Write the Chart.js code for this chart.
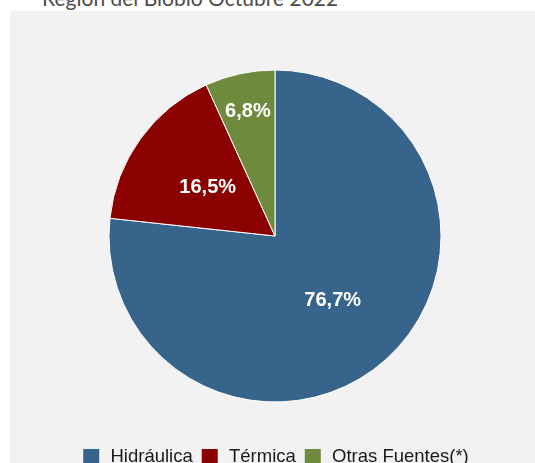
<!DOCTYPE html>
<html>
<head>
<meta charset="utf-8">
<script src="https://cdn.jsdelivr.net/npm/chart.js@4"></script>
<style>
  html, body { margin: 0; padding: 0; background: #ffffff; overflow: hidden; }
  body { width: 535px; height: 463px; position: relative; }
  #title {
    position: absolute; left: 42px; top: -13px;
    font-family: Lato, sans-serif; font-size: 21px; line-height: 21px;
    color: #4d4d4d; white-space: nowrap;
  }
  #panel {
    position: absolute; left: 10px; top: 11px; width: 525px; height: 452px;
    background: #f2f2f2; overflow: hidden;
  }
  #wrap { position: absolute; left: 0; top: 0; width: 525px; height: 466px; }
</style>
</head>
<body>
<div id="title">Región del Biobío Octubre 2022</div>
<div id="panel"><div id="wrap"><canvas id="pie-chart"></canvas></div></div>
<script>
// data
const categories = ['Hidráulica', 'Térmica', 'Otras Fuentes(*)'];
const shares = [76.7, 16.5, 6.8];
const sliceColors = ['#36648b', '#8b0000', '#6e8b3d'];

// how far out each label sits, as a share of the radius
const labelRadius = [0.52, 0.50, 0.77];

const sliceLabels = {
    id: 'sliceLabels',
    afterDatasetsDraw(chart) {
        const ctx = chart.ctx;
        const arcs = chart.getDatasetMeta(0).data;
        ctx.save();
        ctx.font = 'bold 20px "Liberation Sans", Arial, sans-serif';
        ctx.fillStyle = '#ffffff';
        ctx.textAlign = 'center';
        ctx.textBaseline = 'middle';
        arcs.forEach((arc, i) => {
            const p = arc.getProps(['x', 'y', 'startAngle', 'endAngle', 'outerRadius'], true);
            const mid = (p.startAngle + p.endAngle) / 2;
            const r = p.outerRadius * labelRadius[i];
            const txt = shares[i].toFixed(1).replace('.', ',') + '%';
            ctx.fillText(txt, p.x + Math.cos(mid) * r, p.y + Math.sin(mid) * r);
        });
        ctx.restore();
    }
};

new Chart(document.querySelector('#pie-chart').getContext('2d'), {
    type: 'pie',
    data: {
        labels: categories,
        datasets: [{
            data: shares,
            backgroundColor: sliceColors,
            borderColor: '#ffffff',
            borderWidth: 1,
            radius: 166
        }]
    },
    options: {
        responsive: true,
        maintainAspectRatio: false,
        animation: false,
        layout: { padding: { top: 21, left: 6, right: 1, bottom: 0 } },
        plugins: {
            title: { display: false },
            tooltip: { enabled: false },
            legend: {
                position: 'bottom',
                labels: {
                    boxWidth: 20,
                    boxHeight: 20,
                    padding: 7,
                    color: '#1a1a1a',
                    font: { family: '"Liberation Sans", Arial, sans-serif', size: 18.5 },
                    // a wide border in the panel colour leaves a 16px swatch with some air after it
                    generateLabels(chart) {
                        const items = Chart.overrides.pie.plugins.legend.labels.generateLabels(chart);
                        items.forEach(it => { it.strokeStyle = '#f2f2f2'; it.lineWidth = 4; });
                        return items;
                    }
                }
            }
        }
    },
    plugins: [sliceLabels]
});
</script>
</body>
</html>
